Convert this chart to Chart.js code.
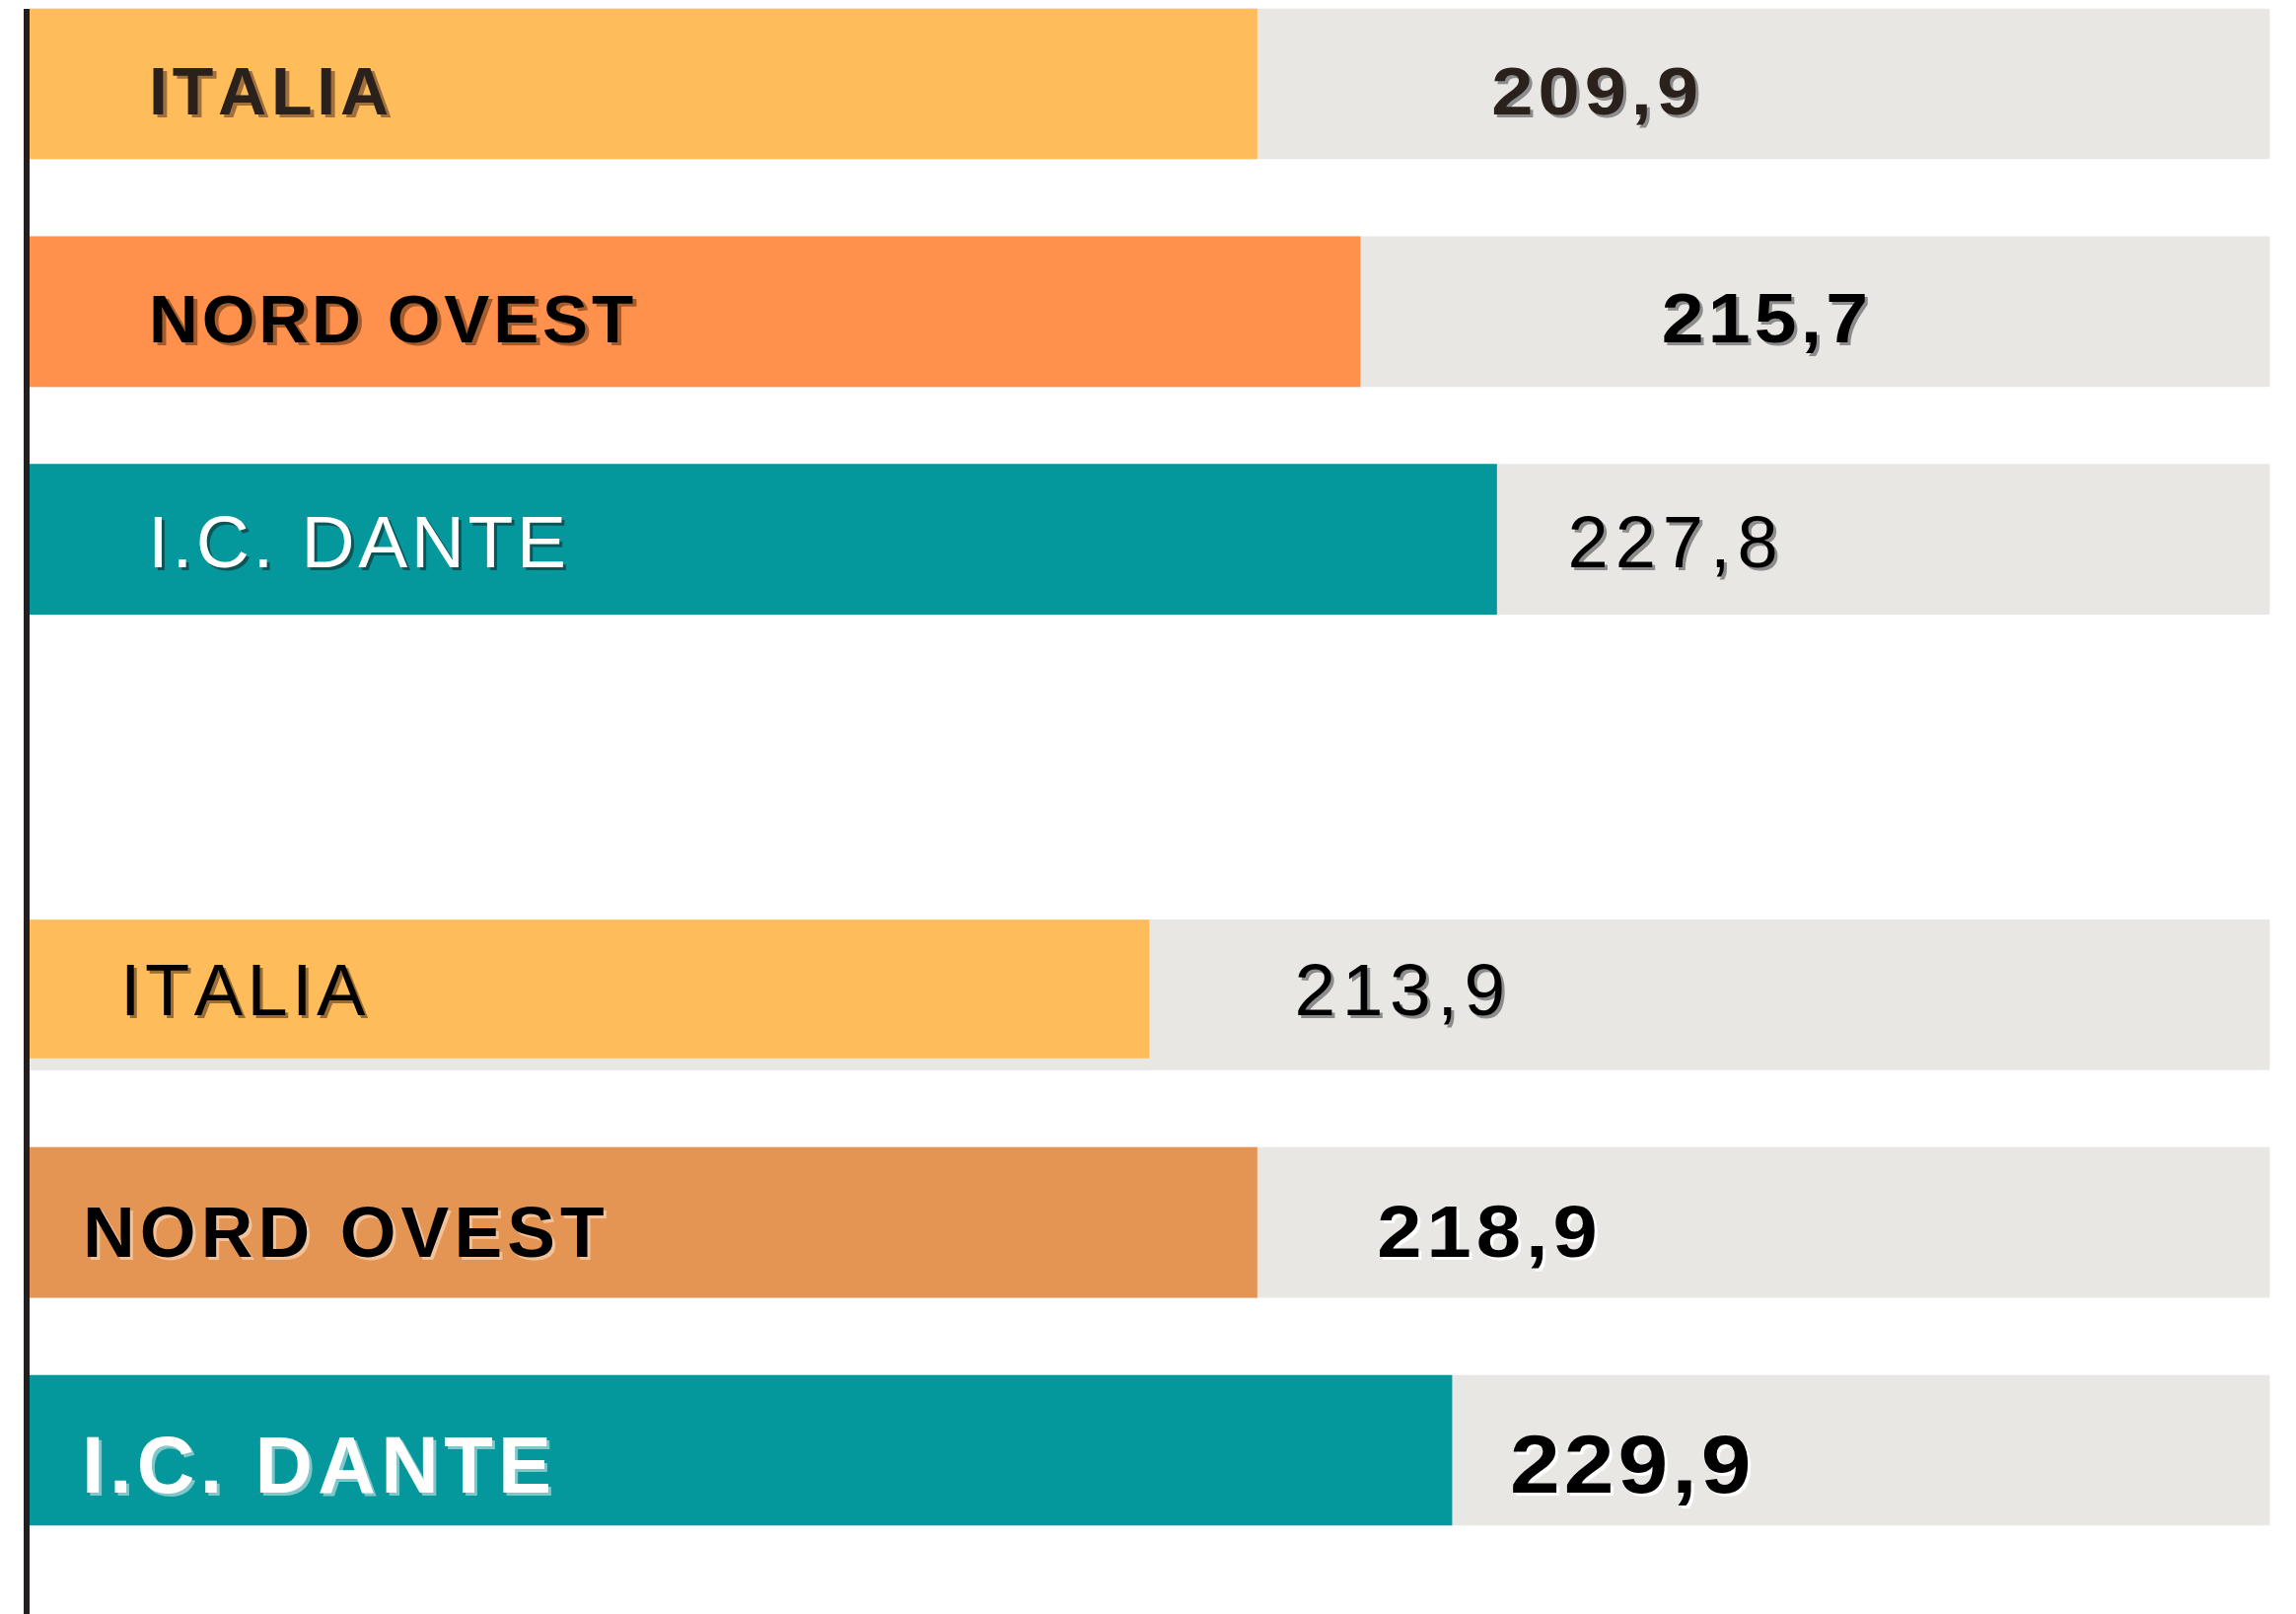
<!DOCTYPE html>
<html>
<head>
<meta charset="utf-8">
<script src="https://cdn.jsdelivr.net/npm/chart.js@4.4.1/dist/chart.umd.min.js"></script>
<style>
html,body{margin:0;padding:0;background:#ffffff;}
#wrap{width:2328px;height:1636px;position:relative;}
</style>
</head>
<body>
<div id="wrap"><canvas id="c"></canvas></div>
<script>
// ---- data ----
const categories  = ['ITALIA', 'NORD OVEST', 'I.C. DANTE', '', 'ITALIA', 'NORD OVEST', 'I.C. DANTE'];
const valueLabels = ['209,9', '215,7', '227,8', '', '213,9', '218,9', '229,9'];
// bar length, as % of the full grey track
const barLength   = [54.8, 59.4, 65.5, null, 50.0, 54.8, 63.5];
const trackLength = [100, 100, 100, null, 100, 100, 100];

// ---- styles ----
const barColors = ['#FEBC5B', '#FF914D', '#04979C', '#ffffff', '#FEBC5B', '#E59553', '#04979C'];
const trackColor = '#E8E7E4';
const FONT = '"Liberation Sans", Arimo, Arial, sans-serif';

const nameStyles = [
  {dx:125, dy:31, size:68, weight:'bold',   h:1,   w:238, color:'#2b211c', shadow:'#a06f3a', sx:4, sy:3},
  {dx:125, dy:31, size:69, weight:'bold',   h:1,   w:487, color:'#000000', shadow:'#a35b2b', sx:4, sy:3},
  {dx:126, dy:28, size:75, weight:'normal', h:1,   w:415, color:'#ffffff', shadow:'#0a5558', sx:3, sy:3},
  null,
  {dx:98,  dy:21, size:74, weight:'normal', h:1,   w:243, color:'#000000', shadow:'#9a6d35', sx:3, sy:3},
  {dx:58,  dy:35, size:73, weight:'bold',   h:1,   w:524, color:'#000000', shadow:'#f2c29a', sx:3, sy:3},
  {dx:58,  dy:43, size:81, weight:'bold',   h:1,   w:468, color:'#ffffff', shadow:'#7fc7c9', sx:3, sy:3}
];
const valueStyles = [
  {dx:240, dy:31, size:69, weight:'bold',   h:1.1, w:205, color:'#2b211c', shadow:'#8c8c8c', sx:3, sy:3},
  {dx:308, dy:31, size:70, weight:'bold',   h:1.1, w:204, color:'#000000', shadow:'#8c8c8c', sx:3, sy:3},
  {dx:75,  dy:28, size:74, weight:'normal', h:1,   w:207, color:'#000000', shadow:'#8c8c8c', sx:3, sy:3},
  null,
  {dx:150, dy:21, size:75, weight:'normal', h:1,   w:208, color:'#000000', shadow:'#8c8c8c', sx:3, sy:3},
  {dx:124, dy:35, size:74, weight:'bold',   h:1.1, w:219, color:'#000000', shadow:'#ffffff', sx:3, sy:3},
  {dx:61,  dy:43, size:83, weight:'bold',   h:1.1, w:240, color:'#000000', shadow:'#ffffff', sx:3, sy:3}
];

function drawSpaced(ctx, text, left, baseline, st) {
  ctx.save();
  ctx.font = st.weight + ' ' + st.size + 'px ' + FONT;
  ctx.textBaseline = 'alphabetic';
  ctx.textAlign = 'left';
  const h = st.h || 1;
  const chars = Array.from(text);
  const n = chars.length;
  const widths = chars.map(c => ctx.measureText(c).width);
  const first = ctx.measureText(chars[0]);
  const last = ctx.measureText(chars[n - 1]);
  let adv = 0;
  for (let i = 0; i < n - 1; i++) adv += widths[i];
  const natural = first.actualBoundingBoxLeft + adv + last.actualBoundingBoxRight;
  const ls = n > 1 ? (st.w / h - natural) / (n - 1) : 0;
  ctx.translate(left, baseline);
  ctx.scale(h, 1);
  const drawRun = (color, ox, oy) => {
    ctx.fillStyle = color;
    let x = first.actualBoundingBoxLeft;
    for (let i = 0; i < n; i++) {
      ctx.fillText(chars[i], x + ox / h, oy);
      x += widths[i] + ls;
    }
  };
  drawRun(st.shadow, st.sx, st.sy);
  drawRun(st.color, 0, 0);
  ctx.restore();
}

const labelPlugin = {
  id: 'barLabels',
  afterDatasetsDraw(chart) {
    const ctx = chart.ctx;
    const meta = chart.getDatasetMeta(0);
    const left = chart.chartArea.left;
    meta.data.forEach((el, i) => {
      if (!categories[i]) return;
      const ns = nameStyles[i], vs = valueStyles[i];
      drawSpaced(ctx, categories[i], left + ns.dx, el.y + ns.dy, ns);
      drawSpaced(ctx, valueLabels[i], el.x + vs.dx, el.y + vs.dy, vs);
    });
  }
};

const axisLinePlugin = {
  id: 'axisLine',
  afterDraw(chart) {
    const ctx = chart.ctx;
    ctx.save();
    ctx.fillStyle = '#231F20';
    ctx.fillRect(chart.chartArea.left - 6, 9, 6, chart.height - 9);
    ctx.restore();
  }
};

new Chart(document.getElementById('c'), {
  type: 'bar',
  data: {
    labels: categories,
    datasets: [
      {
        data: barLength,
        backgroundColor: barColors,
        borderColor: trackColor,
        borderWidth: (c) => (c.dataIndex === 4 ? {bottom: 12} : 0),
        borderSkipped: 'start',
        barThickness: 152,
        grouped: false,
        clip: false,
        order: 1
      },
      {
        data: trackLength,
        backgroundColor: trackColor,
        borderWidth: 0,
        barThickness: 152,
        grouped: false,
        clip: false,
        order: 2
      }
    ]
  },
  options: {
    indexAxis: 'y',
    responsive: true,
    maintainAspectRatio: false,
    animation: false,
    devicePixelRatio: 1,
    layout: {padding: {left: 30, right: 27, top: 85, bottom: 166}},
    scales: {
      x: {display: false, min: 0, max: 100},
      y: {display: false, offset: false}
    },
    plugins: {
      legend: {display: false},
      tooltip: {enabled: false}
    }
  },
  plugins: [labelPlugin, axisLinePlugin]
});
</script>
</body>
</html>
